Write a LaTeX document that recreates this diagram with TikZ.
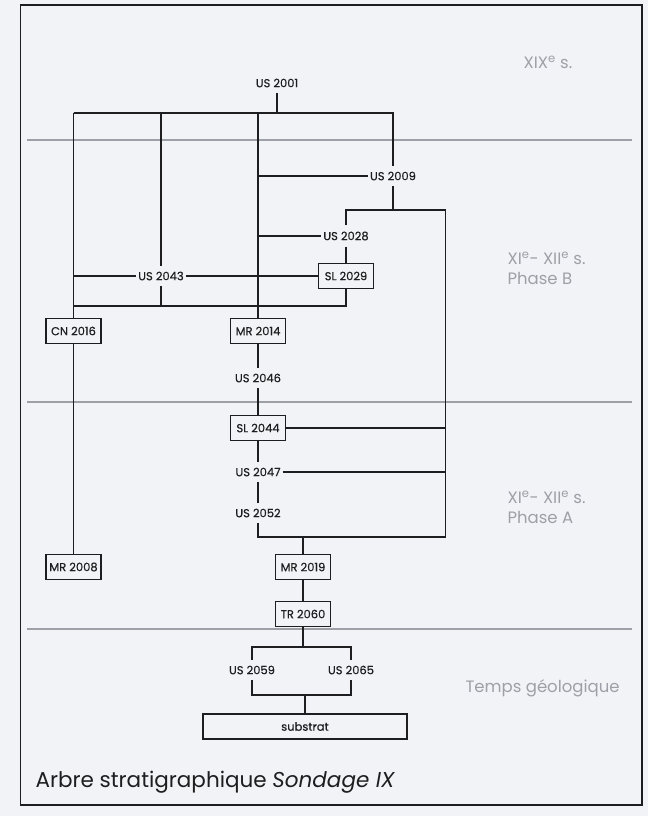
\documentclass[tikz,border=0pt]{standalone}
\usepackage{fontspec}
\setmainfont{Poppins}
\newfontfamily\unitfont{Poppins}[FakeBold=0.5]
\usepackage{tikz}
\usetikzlibrary{positioning, calc}
\definecolor{paper}{RGB}{242,243,246}
\definecolor{phasegray}{RGB}{158,160,168}
\definecolor{ink}{RGB}{30,30,32}
\tikzset{
    unit/.style={
        inner xsep=2pt, inner ysep=6pt,
        text=ink, font=\unitfont\fontsize{11.5}{13}\selectfont
    },
    wall/.style={
        rectangle, draw=ink, fill=paper, line width=1.5pt,
        minimum width=55pt, minimum height=25pt, inner sep=2pt,
        text=ink, font=\unitfont\fontsize{11.5}{13}\selectfont
    },
    link/.style={draw=ink, line width=1.4pt},
    divider/.style={draw=phasegray, line width=1.1pt},
    phase/.style={text=phasegray, align=left, anchor=west, font=\fontsize{16.5}{20}\selectfont},
    frame/.style={draw=ink, line width=1.5pt}
}
\begin{document}
\begin{tikzpicture}[x=1pt, y=-1pt]
        % Paper, frame and period dividers
        \fill[paper] (0,0) rectangle (648,816);
        \useasboundingbox (0,0) rectangle (648,816);
        \draw[frame] (20.5,5) rectangle (642,805);
        \draw[divider] (27,140) -- (632,140);
        \draw[divider] (27,402) -- (632,402);
        \draw[divider] (27,629) -- (632,629);

        % Period labels
        \node[phase] (xix) at (520,62) {XIX\textsuperscript{e} s.};
        \node[phase] (phaseb) at (504,268) {XI\textsuperscript{e}- XII\textsuperscript{e} s.\\Phase B};
        \node[phase] (phasea) at (504,507) {XI\textsuperscript{e}- XII\textsuperscript{e} s.\\Phase A};
        \node[phase] (geol) at (462,688) {Temps géologique};

        % Nodes
        \node[unit] (us2001) at (277,83) {US 2001};
        \node[unit] (us2009) at (393,176) {US 2009};
        \node[unit] (us2028) at (346,236) {US 2028};
        \node[wall] (sl2029) at (346,276) {SL 2029};
        \node[unit] (us2043) at (161,276) {US 2043};
        \node[wall] (cn2016) at (73.5,331) {CN 2016};
        \node[wall] (mr2014) at (258,331) {MR 2014};
        \node[unit] (us2046) at (258,378) {US 2046};
        \node[wall] (sl2044) at (258,428) {SL 2044};
        \node[unit] (us2047) at (258,472) {US 2047};
        \node[unit] (us2052) at (258,513) {US 2052};
        \node[wall] (mr2008) at (73.5,567) {MR 2008};
        \node[wall] (mr2019) at (303,567) {MR 2019};
        \node[wall] (tr2060) at (303,614) {TR 2060};
        \node[unit] (us2059) at (252,670) {US 2059};
        \node[unit] (us2065) at (351,670) {US 2065};
        \node[wall, minimum width=204pt] (substrat) at (305,726.5) {substrat};

        % Junctions
        \coordinate (topl) at (73.5,113);
        \coordinate (topr) at (393,113);
        \coordinate (midl) at (346,210);
        \coordinate (midr) at (445.5,210);
        \coordinate (lowl) at (73.5,306);
        \coordinate (lowr) at (346,306);
        \coordinate (endr) at (445.5,537);
        \coordinate (geol1) at (252,647);
        \coordinate (geor1) at (351,647);
        \coordinate (geol2) at (252,695);
        \coordinate (geor2) at (351,695);

        % Edges
        \draw[link] (us2001.south) -- (us2001.south |- topl);
        \draw[link] (topl) -- (topr) -- (us2009.north);
        \draw[link] (topl) -- (cn2016.north);
        \draw[link] (us2043.north |- topl) -- (us2043.north);
        \draw[link] (mr2014.north |- topl) -- (mr2014.north);
        \draw[link] (mr2014.north |- us2009) -- (us2009.west);
        \draw[link] (us2009.south) -- (us2009.south |- midl);
        \draw[link] (us2028.north) -- (midl) -- (midr) -- (endr);
        \draw[link] (mr2014.north |- us2028) -- (us2028.west);
        \draw[link] (us2028) -- (sl2029);
        \draw[link] (cn2016.north |- us2043) -- (us2043.west);
        \draw[link] (us2043.east) -- (sl2029.west);
        \draw[link] (us2043.south) -- (us2043.south |- lowl);
        \draw[link] (lowl) -- (lowr) -- (sl2029.south);
        \draw[link] (cn2016) -- (mr2008);
        \draw[link] (mr2014) -- (us2046);
        \draw[link] (us2046) -- (sl2044);
        \draw[link] (sl2044) -- (us2047);
        \draw[link] (us2047) -- (us2052);
        \draw[link] (sl2044.east) -- (sl2044.east -| endr);
        \draw[link] (us2047.east) -- (us2047.east -| endr);
        \draw[link] (us2052.south) -- (us2052.south |- endr) -- (endr);
        \draw[link] (mr2019.north |- endr) -- (mr2019.north);
        \draw[link] (mr2019) -- (tr2060);
        \draw[link] (tr2060.south) -- (tr2060.south |- geol1);
        \draw[link] (us2059.north) -- (geol1) -- (geor1) -- (us2065.north);
        \draw[link] (us2059.south) -- (geol2) -- (geor2) -- (us2065.south);
        \draw[link] (substrat.north |- geol2) -- (substrat.north);

        % Caption
        \node[anchor=west, text=ink, font=\fontsize{21.5}{26}\selectfont] (caption) at (32,782) {Arbre stratigraphique \textit{Sondage IX}};
    \end{tikzpicture}
\end{document}
